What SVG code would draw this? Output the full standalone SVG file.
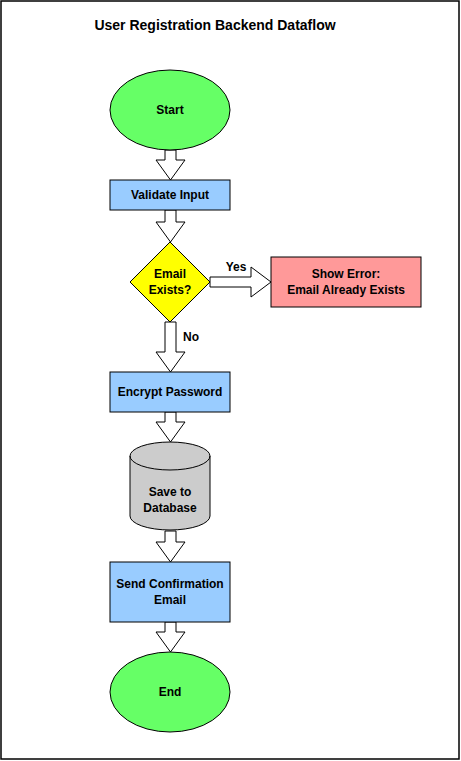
<svg xmlns="http://www.w3.org/2000/svg" width="461" height="761" viewBox="0 0 461 761">
<style>
text{font-family:"Liberation Sans",Arial,sans-serif;font-weight:bold;font-size:12px;fill:#000;text-anchor:middle;dominant-baseline:central}
.t{font-size:14px}
.n{stroke:#000;stroke-width:1}
.a{fill:#fff;stroke:#000;stroke-width:1;stroke-linejoin:miter}
</style>
<rect x="1" y="1" width="458" height="758" fill="#fff" stroke="#000" stroke-width="1.5"/>
<text class="t" x="215" y="25">User Registration Backend Dataflow</text>
<g id="connectors">
<path class="a" d="M165,150 H176 V160 H185 L170.5,180 L156,160 H165 Z"/>
<path class="a" d="M165,210 H176 V222 H185 L170.5,242 L156,222 H165 Z"/>
<path class="a" d="M165,322 H176 V352 H185 L170.5,372 L156,352 H165 Z"/>
<path class="a" d="M165,412 H176 V422 H185 L170.5,442 L156,422 H165 Z"/>
<path class="a" d="M165,531 H176 V542 H185 L170.5,562 L156,542 H165 Z"/>
<path class="a" d="M165,622 H176 V632 H185 L170.5,652 L156,632 H165 Z"/>
<path class="a" d="M210,277 H251 V267 L271,282 L251,297 V287 H210 Z"/>
<text x="236" y="267">Yes</text>
<text x="191" y="337">No</text>
</g>
<g id="start">
<ellipse class="n" cx="170" cy="110" rx="60" ry="40" fill="#66FF66"/>
<text x="170" y="110">Start</text>
</g>
<g id="validate">
<rect class="n" x="110" y="180" width="120" height="30" fill="#99CCFF"/>
<text x="170" y="195">Validate Input</text>
</g>
<g id="decision">
<path class="n" d="M170,242 L210,282 L170,322 L130,282 Z" fill="#FFFF00"/>
<text x="170" y="274">Email</text>
<text x="170" y="290">Exists?</text>
</g>
<g id="error">
<rect class="n" x="271" y="257" width="150" height="50" fill="#FF9999"/>
<text x="346" y="274">Show Error:</text>
<text x="346" y="290">Email Already Exists</text>
</g>
<g id="encrypt">
<rect class="n" x="110" y="372" width="120" height="40" fill="#99CCFF"/>
<text x="170" y="392">Encrypt Password</text>
</g>
<g id="database">
<path class="n" d="M130,456 A40,14 0 0 1 210,456 V516 A40,14 0 0 1 130,516 Z" fill="#CCCCCC"/>
<path class="n" d="M130,456 A40,14 0 0 0 210,456" fill="none"/>
<text x="170" y="492">Save to</text>
<text x="170" y="508">Database</text>
</g>
<g id="email">
<rect class="n" x="110" y="562" width="120" height="60" fill="#99CCFF"/>
<text x="170" y="584">Send Confirmation</text>
<text x="170" y="600">Email</text>
</g>
<g id="end">
<ellipse class="n" cx="170" cy="692" rx="60" ry="40" fill="#66FF66"/>
<text x="170" y="692">End</text>
</g>
</svg>
